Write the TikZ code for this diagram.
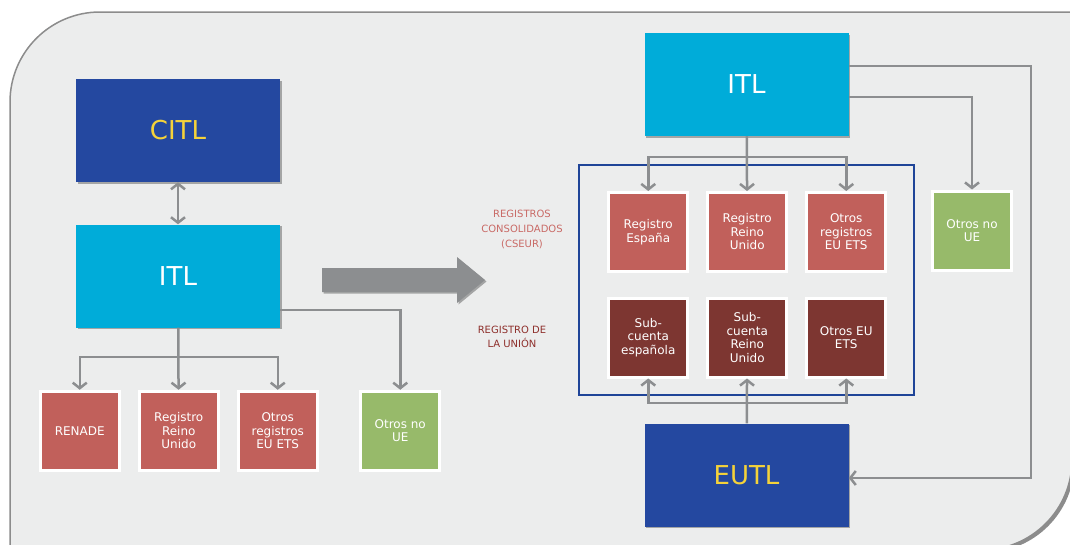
\documentclass[tikz,border=0pt]{standalone}
\usepackage{fontspec}
\setmainfont{DejaVu Sans}
\usetikzlibrary{arrows.meta,shadows,positioning}
\definecolor{panelgrey}{HTML}{ECEDED}
\definecolor{citlblue}{HTML}{2448A0}
\definecolor{itlcyan}{HTML}{00ACD9}
\definecolor{regred}{HTML}{C1605B}
\definecolor{subred}{HTML}{7D3631}
\definecolor{noue}{HTML}{97BA6A}
\definecolor{linkgrey}{HTML}{8C8E90}
\definecolor{frameblue}{HTML}{1F4498}
\definecolor{itlyellow}{HTML}{F4D23A}
\definecolor{cseur}{HTML}{C96A66}
\definecolor{union}{HTML}{8E2F2B}

\begin{document}
\begin{tikzpicture}[x=1pt, y=-1pt,
    shade/.style={drop shadow={shadow xshift=1.5pt, shadow yshift=-1.5pt,
        fill=black, opacity=.3}},
    bigbox/.style={minimum width=204pt, minimum height=103pt, shade,
        font=\fontsize{26}{30}\selectfont},
    regbox/.style={minimum size=79pt, inner sep=0pt, draw=white,
        line width=3pt, shade, text=white, align=center,
        font=\fontsize{12}{13.5}\selectfont},
    label/.style={align=center, font=\fontsize{10}{15}\selectfont},
    link/.style={draw=linkgrey, line width=2.5pt},
    arr/.style={link, -{Straight Barb[length=5.5pt,width=14pt]}},
    dblarr/.style={link, {Straight Barb[length=5.5pt,width=14pt]}-{Straight Barb[length=5.5pt,width=14pt]}}]
  \useasboundingbox (0,0) rectangle (1070,544);
  \fill[white] (0,0) rectangle (1070,544);
  % panel
  \draw[fill=panelgrey, draw=black!45, line width=1.5pt,
      drop shadow={shadow xshift=2.5pt, shadow yshift=-2.5pt, fill=black, opacity=.45}]
    (10,650) -- (10,102) arc[start angle=180, end angle=270, radius=90]
    -- (1072,12) -- (1072,460) arc[start angle=0, end angle=90, radius=90]
    -- (10,550) -- cycle;

  % left: current scheme
  \node[bigbox, fill=citlblue, text=itlyellow] (citl) at (178,130.5) {CITL};
  \node[bigbox, fill=itlcyan, text=white] (litl) at (178,276) {ITL};
  \matrix (lrow) [column sep=17pt] at (240,430.75) {
    \node[regbox, fill=regred] (renade) {RENADE}; &
    \node[regbox, fill=regred] (lreino) {Registro\\Reino\\Unido}; &
    \node[regbox, fill=regred] (lotros) {Otros\\registros\\EU ETS}; &[23.5pt]
    \node[regbox, fill=noue] (lnoue) {Otros no\\UE}; \\
  };
  \draw[dblarr] (citl) -- (litl);
  \coordinate (lbus) at (178,357);
  \draw[arr] (litl) -- (lreino);
  \draw[arr] (lbus) -| (renade);
  \draw[arr] (lbus) -| (lotros);
  \draw[arr] ([yshift=-34pt]litl.east) -| (lnoue);

  % transition
  \fill[linkgrey, shade] (322,268) -- (457,268) -- (457,257) -- (485,280)
    -- (457,303) -- (457,292) -- (322,292) -- cycle;
  \node[label, text=cseur] (lcseur) at (522,229) {REGISTROS\\CONSOLIDADOS\\(CSEUR)};
  \node[label, text=union, font=\fontsize{10}{13.5}\selectfont] (lunion) at (512,337)
    {REGISTRO DE\\LA UNIÓN};

  % right: new scheme
  \node[bigbox, fill=itlcyan, text=white] (ritl) at (746.5,84.5) {ITL};
  \node[bigbox, fill=citlblue, text=itlyellow] (eutl) at (746.5,475) {EUTL};
  \draw[draw=frameblue, line width=2.5pt] (579,165) rectangle (914,395);
  \matrix (grid) [column sep=17pt, row sep=23.5pt] at (747.25,284.75) {
    \node[regbox, fill=regred] (rES) {Registro\\España}; &
    \node[regbox, fill=regred] (rRU) {Registro\\Reino\\Unido}; &
    \node[regbox, fill=regred] (rOT) {Otros\\registros\\EU ETS}; \\
    \node[regbox, fill=subred] (sES) {Sub-\\cuenta\\española}; &
    \node[regbox, fill=subred] (sRU) {Sub-\\cuenta\\Reino\\Unido}; &
    \node[regbox, fill=subred] (sOT) {Otros EU\\ETS}; \\
  };
  \node[regbox, fill=noue] (rnoue) at (972,230.5) {Otros no\\UE};
  \coordinate (rbus) at (746.5,157);
  \coordinate (ebus) at (746.5,403);
  \coordinate (rturn) at (1031,478);
  \draw[arr] (ritl) -- (rRU);
  \draw[arr] (rbus) -| (rES);
  \draw[arr] (rbus) -| (rOT);
  \draw[arr] ([yshift=-12.5pt]ritl.east) -| (rnoue);
  \draw[arr] ([yshift=18.5pt]ritl.east) -| (rturn) -- ([yshift=-3pt]eutl.east);
  \draw[arr] (eutl) -- (sRU);
  \draw[arr] (ebus) -| (sES);
  \draw[arr] (ebus) -| (sOT);
\end{tikzpicture}
\end{document}
